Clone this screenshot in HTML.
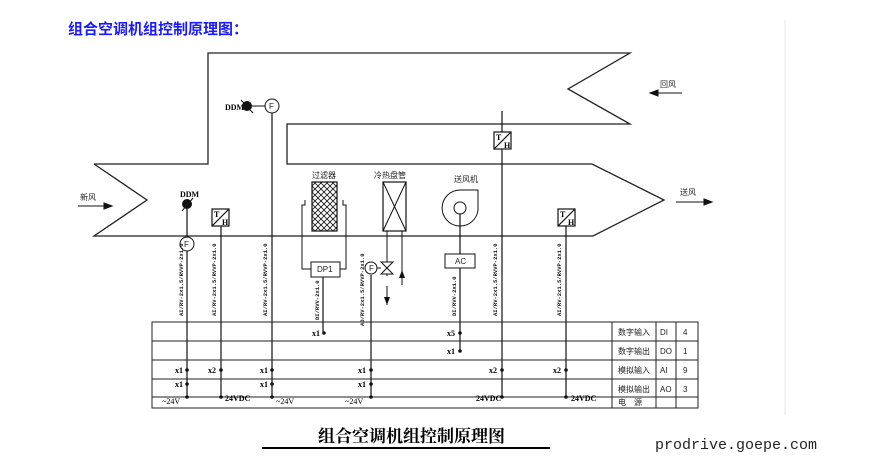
<!DOCTYPE html>
<html><head><meta charset="utf-8"><style>
body{margin:0;background:#fff;width:886px;height:462px;overflow:hidden}
svg{display:block}
.t{font-family:"Liberation Sans","Noto Sans CJK SC",sans-serif;font-size:8px;fill:#222}
.v{font-family:"Liberation Mono",monospace;font-size:5.5px;font-weight:bold;fill:#111}
.c{font-family:"Liberation Serif",serif;font-size:8px;font-weight:bold;fill:#000}
</style></head><body>
<svg width="886" height="462" viewBox="0 0 886 462" xmlns="http://www.w3.org/2000/svg">
<text x="68" y="34" font-family="Liberation Sans,'Noto Sans CJK SC',sans-serif" font-size="15" font-weight="bold" fill="#1a1aff">组合空调机组控制原理图：</text>
<line x1="785" y1="20" x2="785" y2="415" stroke="#e4e4e4" stroke-width="1"/>
<g stroke="#222" stroke-width="1.3" fill="none">
<polyline points="94,164 208,164 208,53 630,53 568,89 630,124 287,124 287,164 592,164 664,200 593,236 94,236 147,200 94,164"/>
</g>
<g stroke="#111" stroke-width="1">
<line x1="78" y1="206" x2="112" y2="206"/><polygon points="112,206 104,203 104,209" fill="#111"/>
<line x1="650" y1="93" x2="682" y2="93"/><polygon points="650,93 658,90 658,96" fill="#111"/>
<line x1="676" y1="202" x2="712" y2="202"/><polygon points="712,202 704,199 704,205" fill="#111"/>
</g>
<text class="t" x="80" y="200">新风</text>
<text class="t" x="660" y="87">回风</text>
<text class="t" x="680" y="195">送风</text>
<g stroke="#111" stroke-width="1.2">
<line x1="187" y1="200" x2="187" y2="397"/>
<line x1="221" y1="218" x2="221" y2="397"/>
<line x1="272" y1="113" x2="272" y2="397"/>
<line x1="323" y1="277" x2="323" y2="333"/>
<line x1="371" y1="275" x2="371" y2="397"/>
<line x1="460" y1="208" x2="460" y2="350"/>
<line x1="502" y1="111" x2="502" y2="397"/>
<line x1="566" y1="218" x2="566" y2="397"/>
</g>
<text class="c" x="180" y="197" font-size="7">DDM</text>
<circle cx="187" cy="204" r="5" fill="#111"/>
<line x1="182" y1="211" x2="193" y2="198" stroke="#111"/>
<circle cx="187" cy="244" r="7" fill="#fff" stroke="#111"/>
<text class="t" x="184" y="247" font-size="6">F</text>
<text class="c" x="225" y="110" font-size="7">DDM</text>
<circle cx="247" cy="106" r="5" fill="#111"/>
<line x1="241" y1="100" x2="253" y2="113" stroke="#111"/>
<line x1="252" y1="106" x2="265" y2="106" stroke="#111"/>
<circle cx="272" cy="106" r="7" fill="#fff" stroke="#111"/>
<text class="t" x="269" y="109" font-size="6">F</text>
<g stroke="#111" fill="#fff" stroke-width="1.2">
<rect x="212" y="209" width="17" height="17"/><line x1="212" y1="226" x2="229" y2="209"/>
<rect x="494" y="132" width="17" height="17"/><line x1="494" y1="149" x2="511" y2="132"/>
<rect x="558" y="209" width="17" height="17"/><line x1="558" y1="226" x2="575" y2="209"/>
</g>
<g class="c" font-size="8"><text x="214" y="217">T</text><text x="222" y="225">H</text>
<text x="496" y="140">T</text><text x="504" y="148">H</text>
<text x="560" y="217">T</text><text x="568" y="225">H</text></g>
<text class="t" x="312" y="178">过滤器</text>
<defs><pattern id="h" width="6" height="6" patternUnits="userSpaceOnUse"><path d="M0,0L6,6M6,0L0,6" stroke="#111" stroke-width="0.8"/></pattern></defs>
<rect x="312" y="182" width="25" height="49" fill="url(#h)" stroke="#111" stroke-width="1.2"/>
<polyline points="305,200 305,205 302,205 302,269 311,269" fill="none" stroke="#111"/>
<polyline points="343,200 343,205 346,205 346,269 340,269" fill="none" stroke="#111"/>
<rect x="311" y="262" width="29" height="15" fill="#fff" stroke="#111"/>
<text class="t" x="317" y="272" font-size="7">DP1</text>
<text class="t" x="374" y="178">冷热盘管</text>
<rect x="383" y="182" width="23" height="49" fill="#fff" stroke="#111" stroke-width="1.2"/>
<path d="M383,182L406,231M406,182L383,231" stroke="#111"/>
<line x1="387" y1="231" x2="387" y2="305" stroke="#111"/>
<line x1="402" y1="231" x2="402" y2="285" stroke="#111"/>
<polygon points="381,262 393,262 381,274 393,274" fill="#fff" stroke="#111"/>
<circle cx="371" cy="268" r="6" fill="#fff" stroke="#111"/>
<line x1="377" y1="268" x2="381" y2="268" stroke="#111"/>
<text class="t" x="369" y="271" font-size="6">F</text>
<polygon points="387,305 384,297 390,297" fill="#111"/>
<polygon points="402,270 399,278 405,278" fill="#111"/>
<rect x="382" y="276" width="10" height="10" fill="#fff"/>
<text class="t" x="454" y="182">送风机</text>
<path d="M460,190 L478,190 L478,210 A18,18 0 1 1 460,190Z" fill="none" stroke="#111"/>
<circle cx="460" cy="208" r="6" fill="#fff" stroke="#111"/>
<rect x="445" y="254" width="30" height="14" fill="#fff" stroke="#111"/>
<text class="t" x="455" y="264" font-size="7">AC</text>
<g class="v">
<text transform="translate(183,316) rotate(-90)">AI/RV-2x1.5/RVVP-2x1.0</text>
<text transform="translate(216,316) rotate(-90)">AI/RV-2x1.5/RVVP-2x1.0</text>
<text transform="translate(267,316) rotate(-90)">AI/RV-2x1.5/RVVP-2x1.0</text>
<text transform="translate(319,320) rotate(-90)">DI/RVV-2x1.0</text>
<text transform="translate(364,326) rotate(-90)">AO/RV-2x1.5/RVVP-2x1.0</text>
<text transform="translate(456,316) rotate(-90)">DI/RVV-2x1.0</text>
<text transform="translate(497,316) rotate(-90)">AI/RV-2x1.5/RVVP-2x1.0</text>
<text transform="translate(561,316) rotate(-90)">AI/RV-2x1.5/RVVP-2x1.0</text>
</g>
<g stroke="#222" stroke-width="1" fill="none">
<rect x="152" y="322" width="546" height="86"/>
<line x1="152" y1="341" x2="698" y2="341"/>
<line x1="152" y1="360" x2="698" y2="360"/>
<line x1="152" y1="379" x2="698" y2="379"/>
<line x1="152" y1="397" x2="698" y2="397"/>
<line x1="612" y1="322" x2="612" y2="408"/>
<line x1="656" y1="322" x2="656" y2="408"/>
<line x1="676" y1="322" x2="676" y2="408"/>
</g>
<g class="t" font-size="8">
<text x="618" y="335">数字输入</text><text x="660" y="335">DI</text><text x="683" y="335">4</text>
<text x="618" y="354">数字输出</text><text x="660" y="354">DO</text><text x="683" y="354">1</text>
<text x="618" y="373">模拟输入</text><text x="660" y="373">AI</text><text x="683" y="373">9</text>
<text x="618" y="392">模拟输出</text><text x="660" y="392">AO</text><text x="683" y="392">3</text>
<text x="618" y="405">电　源</text>
</g>
<g fill="#111">
<circle cx="324" cy="333" r="1.8"/><circle cx="460" cy="333" r="1.8"/>
<circle cx="460" cy="351" r="1.8"/>
<circle cx="187" cy="370" r="1.8"/><circle cx="221" cy="370" r="1.8"/><circle cx="272" cy="370" r="1.8"/><circle cx="371" cy="370" r="1.8"/><circle cx="502" cy="370" r="1.8"/><circle cx="566" cy="370" r="1.8"/>
<circle cx="187" cy="384" r="1.8"/><circle cx="272" cy="384" r="1.8"/><circle cx="371" cy="384" r="1.8"/>
<circle cx="187" cy="397" r="1.8"/><circle cx="221" cy="397" r="1.8"/><circle cx="272" cy="397" r="1.8"/><circle cx="371" cy="397" r="1.8"/><circle cx="502" cy="397" r="1.8"/><circle cx="566" cy="397" r="1.8"/>
</g>
<g class="c">
<text x="312" y="336">x1</text><text x="447" y="336">x5</text>
<text x="447" y="354">x1</text>
<text x="175" y="373">x1</text><text x="208" y="373">x2</text><text x="260" y="373">x1</text><text x="358" y="373">x1</text><text x="489" y="373">x2</text><text x="553" y="373">x2</text>
<text x="175" y="387">x1</text><text x="260" y="387">x1</text><text x="358" y="387">x1</text>
<text x="162" y="404" font-weight="normal">~24V</text><text x="225" y="401">24VDC</text><text x="276" y="404" font-weight="normal">~24V</text><text x="345" y="404" font-weight="normal">~24V</text><text x="476" y="401">24VDC</text><text x="571" y="401">24VDC</text>
</g>
<text x="318" y="442" font-family="Liberation Serif,'Noto Serif CJK SC',serif" font-size="17" font-weight="bold" fill="#000">组合空调机组控制原理图</text>
<line x1="262" y1="448" x2="550" y2="448" stroke="#000" stroke-width="2"/>
<text x="655" y="449" font-family="Liberation Mono,monospace" font-size="15" fill="#222">prodrive.goepe.com</text>
</svg>
</body></html>
